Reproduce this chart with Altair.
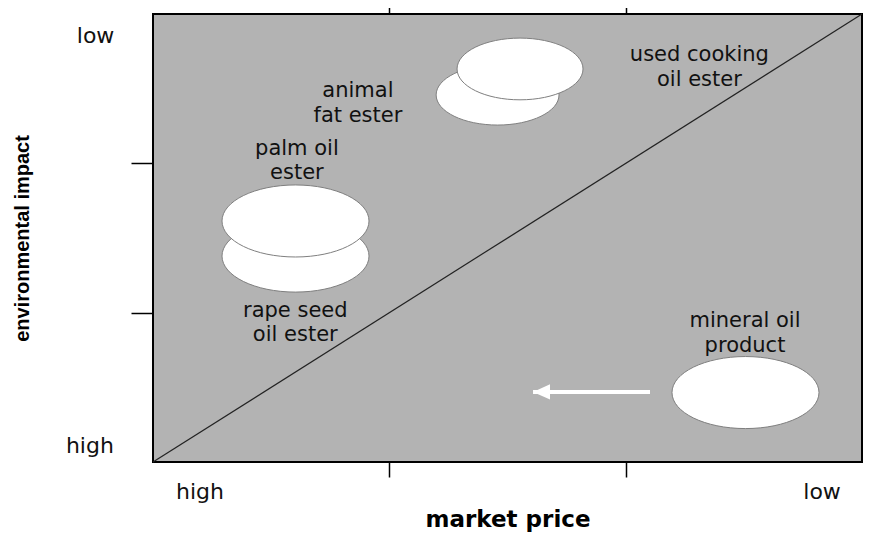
import altair as alt
import pandas as pd

# ---- data (x: market price 0=high .. 3=low ; y: environmental impact 0=high .. 3=low)
names = ["rape seed oil ester", "palm oil ester", "animal fat ester",
         "used cooking oil ester", "mineral oil product"]
price = [0.603, 0.603, 1.458, 1.553, 2.507]
impact = [1.379, 1.614, 2.458, 2.632, 0.465]
spread = [0.622, 0.622, 0.520, 0.533, 0.622]   # ellipse width in x-units

label_text = ["rape seed\noil ester", "palm oil\nester", "animal\nfat ester",
              "used cooking\noil ester", "mineral oil\nproduct"]
label_x = [0.602, 0.609, 0.867, 2.312, 2.505]
label_y = [0.971, 2.056, 2.444, 2.685, 0.904]

end_text = ["high", "low", "low", "high"]
end_x = [0.199, 2.831, -0.243, -0.267]
end_y = [-0.248, -0.248, 2.806, 0.060]

diag_x = [0, 3]
diag_y = [0, 3]

arrow_from = [2.103]
arrow_to = [1.608]
arrow_y = [0.469]

W, H = 709, 448
PX_PER_X = W / 3.0

ell = pd.DataFrame({"name": names, "x": price, "y": impact, "w": spread})
ell["size"] = (ell["w"] * PX_PER_X) ** 2
labels = pd.DataFrame({"t": label_text, "x": label_x, "y": label_y})
ends = pd.DataFrame({"t": end_text, "x": end_x, "y": end_y})
diag = pd.DataFrame({"x": diag_x, "y": diag_y})
arrow = pd.DataFrame({"x": arrow_from, "x2": arrow_to, "y": arrow_y})

XS = alt.Scale(domain=[0, 3], nice=False, zero=False)
YS = alt.Scale(domain=[0, 3], nice=False, zero=False)

y_axis = alt.Axis(values=[1, 2], labels=False, tickSize=22, tickColor="black",
                  tickWidth=1.5, domain=False, grid=False,
                  title="environmental impact", titleFont="Liberation Sans",
                  titleFontSize=20, titleFontWeight="bold", titleColor="black",
                  titlePadding=98)
bottom_axis = alt.Axis(orient="bottom", values=[1, 2], labels=False, tickSize=15,
                       tickColor="black", tickWidth=1.5, domain=False, grid=False,
                       title="market price", titleFont="DejaVu Sans",
                       titleFontSize=23, titleFontWeight="bold", titleColor="black",
                       titleBaseline="alphabetic", titlePadding=49)
top_axis = alt.Axis(orient="top", values=[1, 2], labels=False, tickSize=14,
                    tickColor="black", tickWidth=1.5, domain=False, grid=False,
                    title=None)


def X(field, axis=None):
    return alt.X(field, type="quantitative", scale=XS, axis=axis)


def Y(field):
    return alt.Y(field, type="quantitative", scale=YS, axis=y_axis)


ELLIPSE = "M-1,0A1,0.49,0,1,1,1,0A1,0.49,0,1,1,-1,0Z"
HEAD = "M0,0L2,-0.9L2,0.9Z"

diag_layer = alt.Chart(diag).mark_line(color="#222222", strokeWidth=1.2).encode(
    x=X("x", top_axis), y=Y("y"))

ell_layer = alt.Chart(ell).mark_point(
    shape=ELLIPSE, filled=True, fill="white", stroke="#7f7f7f",
    strokeWidth=1, opacity=1, fillOpacity=1, strokeOpacity=1
).encode(x=X("x", bottom_axis), y=Y("y"),
         size=alt.Size("size:Q", scale=None, legend=None))

arrow_layer = alt.Chart(arrow).mark_rule(color="white", strokeWidth=4).encode(
    x=X("x"), x2="x2", y=Y("y"))

head_layer = alt.Chart(arrow).mark_point(
    shape=HEAD, filled=True, color="white", size=289, opacity=1, strokeWidth=0
).encode(x=X("x2"), y=Y("y"))

label_layer = alt.Chart(labels).mark_text(
    font="DejaVu Sans", fontSize=21, lineHeight=24.5, lineBreak="\n",
    align="center", baseline="alphabetic", color="#111111"
).encode(x=X("x"), y=Y("y"), text="t:N")

end_layer = alt.Chart(ends).mark_text(
    font="DejaVu Sans", fontSize=22, align="center", baseline="alphabetic",
    color="#111111"
).encode(x=X("x"), y=Y("y"), text="t:N")

chart = alt.layer(
    diag_layer, ell_layer, arrow_layer, head_layer, label_layer, end_layer
).resolve_axis(x="independent").properties(
    width=W, height=H,
    autosize=alt.AutoSizeParams(type="none"),
    padding={"left": 145, "top": 6, "right": 7, "bottom": 72},
).configure_view(fill="#b3b3b3", stroke="black", strokeWidth=2)

chart.save("out.html", embed_options={"renderer": "svg", "actions": False})
